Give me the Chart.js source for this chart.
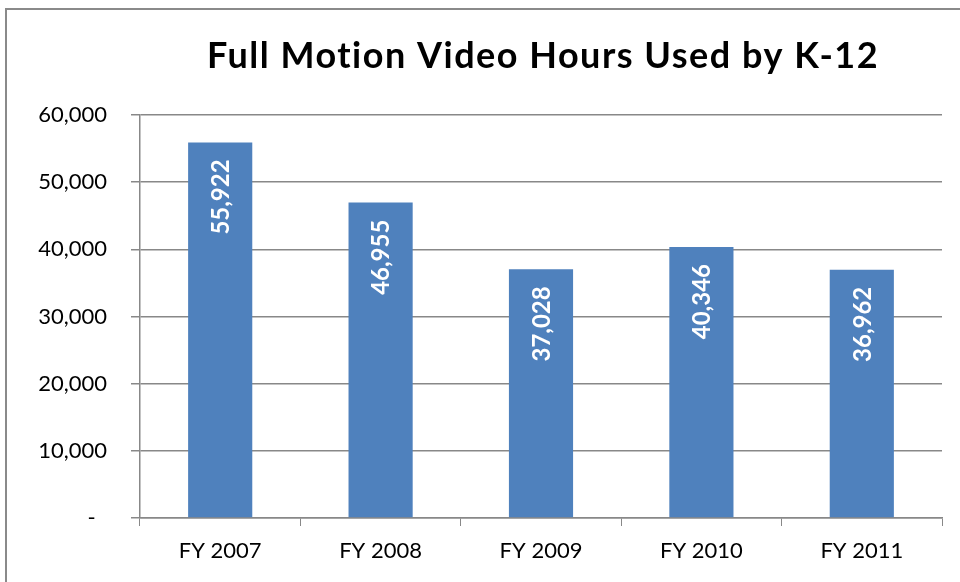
<!DOCTYPE html>
<html>
<head>
<meta charset="utf-8">
<script src="https://cdn.jsdelivr.net/npm/chart.js@4/dist/chart.umd.min.js"></script>
<style>
  html, body { margin: 0; padding: 0; overflow: hidden; background: #fff; }
  #wrap { position: relative; width: 960px; height: 582px; }
  #frame {
    position: absolute; left: 5px; top: 8px; width: 1000px; height: 1000px;
    border: 2px solid #8a8a8a; pointer-events: none; box-sizing: border-box;
  }
</style>
</head>
<body>
<div id="wrap">
  <canvas id="chart" width="960" height="582"></canvas>
  <div id="frame"></div>
</div>
<script>
// data
const years  = ["FY 2007", "FY 2008", "FY 2009", "FY 2010", "FY 2011"];
const hours  = [55922, 46955, 37028, 40346, 36962];
const yTicks = [0, 10000, 20000, 30000, 40000, 50000, 60000];
const titleText = "Full Motion Video Hours Used by K-12";

// colours
const BAR  = "#4f81bd";
const GRID = "#888888";
const TEXT = "#000000";
const FONT = "Lato, 'Open Sans', sans-serif";

const fmt = v => v.toLocaleString("en-US");

// title centred over the plot area (Excel style)
const plotTitle = {
  id: "plotTitle",
  afterDraw(chart) {
    const ctx = chart.ctx;
    const a = chart.chartArea;
    ctx.save();
    ctx.fillStyle = TEXT;
    ctx.font = "bold 36px " + FONT;
    if ("letterSpacing" in ctx) ctx.letterSpacing = "1.5px";
    ctx.textAlign = "center";
    ctx.textBaseline = "alphabetic";
    ctx.fillText(titleText, (a.left + a.right) / 2 + 2, 68);
    ctx.restore();
  }
};

// white rotated value labels inside the bars
const barLabels = {
  id: "barLabels",
  afterDatasetsDraw(chart) {
    const ctx = chart.ctx;
    const meta = chart.getDatasetMeta(0);
    ctx.save();
    ctx.fillStyle = "#ffffff";
    ctx.font = "bold 24px " + FONT;
    ctx.textAlign = "right";
    ctx.textBaseline = "middle";
    meta.data.forEach((bar, i) => {
      ctx.save();
      ctx.translate(bar.x + 1, bar.y + 17);
      ctx.rotate(-Math.PI / 2);
      ctx.fillText(fmt(hours[i]), 0, 0);
      ctx.restore();
    });
    ctx.restore();
  }
};

new Chart(document.getElementById("chart"), {
  type: "bar",
  data: {
    labels: years,
    datasets: [{
      data: hours,
      backgroundColor: BAR,
      borderWidth: 0,
      barPercentage: 0.4,
      categoryPercentage: 1.0,
    }]
  },
  options: {
    responsive: false,
    animation: false,
    layout: { padding: { left: 0, right: 18, top: 115, bottom: 0 } },
    plugins: {
      legend: { display: false },
      tooltip: { enabled: false },
      title: { display: false }
    },
    scales: {
      x: {
        grid: {
          display: true, drawOnChartArea: false, drawTicks: true,
          tickLength: 8, color: GRID, offset: true,
        },
        border: { display: true, color: GRID, width: 1.5 },
        ticks: { color: TEXT, font: { family: FONT, size: 22 }, padding: 12 },
        afterFit: s => { s.height = 64; }
      },
      y: {
        min: 0, max: 60000,
        afterBuildTicks: s => { s.ticks = yTicks.map(v => ({ value: v })); },
        grid: { color: GRID, lineWidth: 1.5, tickLength: 9, drawTicks: true },
        border: { display: true, color: GRID, width: 1.5 },
        ticks: {
          color: TEXT,
          font: { family: FONT, size: 22 },
          padding: 24,
          callback: v => v === 0 ? "-  " : fmt(v),
        },
        afterFit: s => { s.width = 140; }
      }
    }
  },
  plugins: [barLabels, plotTitle]
});
</script>
</body>
</html>
